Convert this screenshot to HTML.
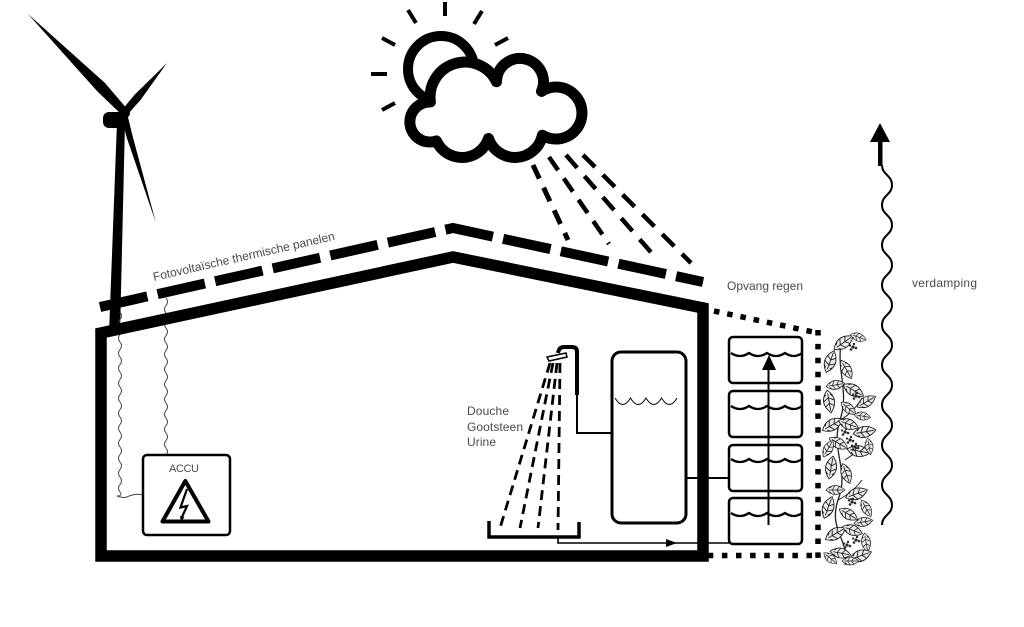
<!DOCTYPE html>
<html><head><meta charset="utf-8"><style>
html,body{margin:0;padding:0;background:#fff;}
svg{display:block;}
text{font-family:"Liberation Sans",sans-serif;fill:#4a4a4a;}
</style></head><body>
<svg width="1024" height="627" viewBox="0 0 1024 627" xmlns="http://www.w3.org/2000/svg">
<defs>
  <path id="lf" d="M-10,0 Q0,-10 11,0 Q0,10 -10,0 Z M-7,0 L9,0 M-3,0 L0,-5 M2,0 L5,-4 M-3,0 L0,5 M2,0 L5,4 M-6,-2 L-4,-4 M-6,2 L-4,4" fill="#ececec" stroke="#1a1a1a" stroke-width="0.8"/>
  <g id="fl" fill="#2a2a2a">
    <circle cx="0" cy="0" r="1.6"/><circle cx="3" cy="1" r="1.3"/><circle cx="-2" cy="2.5" r="1.3"/><circle cx="1" cy="-3" r="1.2"/><circle cx="-3" cy="-1.5" r="1.1"/>
  </g>
</defs>
<rect width="1024" height="627" fill="#fff"/>

<!-- wind turbine -->
<g fill="#000">
  <polygon points="117,122 125,122 120,334 109,334"/>
  <polygon points="128,110 105,83 28,14 97,91 123,116"/>
  <polygon points="122,110 134.6,94.7 167,63 140.6,99.9 128,114"/>
  <polygon points="121,116 126.7,137.5 156,223 132.5,135.7 127,113"/>
  <rect x="103" y="112" width="22" height="16" rx="6"/>
  <circle cx="125" cy="113" r="5"/>
</g>

<!-- wires to ACCU -->
<g fill="none" stroke="#444" stroke-width="1">
  <path d="M120,312 q3,3.75 0,7.5 q-3,3.75 0,7.5 q3,3.75 0,7.5 q-3,3.75 0,7.5 q3,3.75 0,7.5 q-3,3.75 0,7.5 q3,3.75 0,7.5 q-3,3.75 0,7.5 q3,3.75 0,7.5 q-3,3.75 0,7.5 q3,3.75 0,7.5 q-3,3.75 0,7.5 q3,3.75 0,7.5 q-3,3.75 0,7.5 q3,3.75 0,7.5 q-3,3.75 0,7.5 q3,3.75 0,7.5 q-3,3.75 0,7.5 q3,3.75 0,7.5 q-3,3.75 0,7.5 q3,3.75 0,7.5 q-3,3.75 0,7.5 q3,3.75 0,7.5 q-3,3.75 0,7.5 q3,3.75 -3,4 q7,3 12,0 q7,-3 14,-1"/>
  <path d="M166,298 q3,3.75 0,7.5 q-3,3.75 0,7.5 q3,3.75 0,7.5 q-3,3.75 0,7.5 q3,3.75 0,7.5 q-3,3.75 0,7.5 q3,3.75 0,7.5 q-3,3.75 0,7.5 q3,3.75 0,7.5 q-3,3.75 0,7.5 q3,3.75 0,7.5 q-3,3.75 0,7.5 q3,3.75 0,7.5 q-3,3.75 0,7.5 q3,3.75 0,7.5 q-3,3.75 0,7.5 q3,3.75 0,7.5 q-3,3.75 0,7.5 q3,3.75 0,7.5 q-3,3.75 0,7.5 q3,3.75 0,7.5 q-3,3.75 0,7"/>
</g>

<!-- PV panels dashed roof -->
<polyline points="100,307 453,228 703,282" fill="none" stroke="#000" stroke-width="10" stroke-dasharray="48.5 10.5"/>
<text x="0" y="0" font-size="12" textLength="186" transform="translate(154,281) rotate(-12.8)">Fotovoltaïsche thermische panelen</text>

<!-- house -->
<path d="M101,333 L453,257 L703,308 L703,556 L101,556 Z" fill="none" stroke="#000" stroke-width="11.5" stroke-linejoin="miter"/>

<!-- rain -->
<g stroke="#000" fill="none">
  <line x1="533" y1="165" x2="568" y2="240" stroke-width="5" stroke-dasharray="15 10"/>
  <line x1="549" y1="157" x2="609" y2="244" stroke-width="4.5" stroke-dasharray="16 10"/>
  <line x1="566" y1="155" x2="656" y2="258" stroke-width="4.5" stroke-dasharray="17 11"/>
  <line x1="583" y1="155" x2="691" y2="263" stroke-width="4.5" stroke-dasharray="17 11"/>
</g>

<!-- sun -->
<g stroke="#000" stroke-width="4" fill="none">
  <line x1="445" y1="2" x2="445" y2="16"/>
  <line x1="408" y1="10" x2="416" y2="23"/>
  <line x1="482" y1="11" x2="474" y2="24"/>
  <line x1="382" y1="38" x2="395" y2="45"/>
  <line x1="371" y1="74" x2="387" y2="74"/>
  <line x1="382" y1="110" x2="395" y2="103"/>
  <line x1="495" y1="45" x2="508" y2="38"/>
</g>
<circle cx="441" cy="69" r="33" fill="#fff" stroke="#000" stroke-width="10"/>

<!-- cloud -->
<path d="M430.4,102 A35,35 0 0 1 496.5,81.7 A23.5,23.5 0 1 1 541.5,91.4 A26,26 0 1 1 542.4,135.2 A28,28 0 0 1 488.5,138.5 A28,28 0 0 1 436.4,140.9 A20,20 0 1 1 430.4,102 Z" fill="#fff" stroke="#000" stroke-width="11" stroke-linejoin="round"/>

<!-- labels -->
<text x="727" y="290" font-size="12" textLength="76">Opvang regen</text>
<text x="912" y="287" font-size="12" textLength="65">verdamping</text>
<text x="467" y="415" font-size="12" textLength="42">Douche</text>
<text x="467" y="431" font-size="12" textLength="56">Gootsteen</text>
<text x="467" y="446" font-size="12" textLength="29">Urine</text>

<!-- ACCU -->
<rect x="143" y="455" width="87" height="80" rx="4" fill="#fff" stroke="#000" stroke-width="2.5"/>
<text x="169" y="472" font-size="11" textLength="30">ACCU</text>
<polygon points="185.3,481 162.5,521.5 208.5,521.5" fill="none" stroke="#000" stroke-width="4" stroke-linejoin="round"/>
<polyline points="187,489 180.5,507.5 187,506 182,517" fill="none" stroke="#000" stroke-width="2.2"/>
<polygon points="180,516 184.5,517 181,522" fill="#000"/>

<!-- shower -->
<g stroke="#000" fill="none">
  <path d="M577,395 L577,352 Q577,347 572,347 L564,347 Q559,347 558,353" stroke-width="4"/>
  <path d="M577,393 L577,433 L612,433" stroke-width="2"/>
  <line x1="550" y1="363" x2="500" y2="528" stroke-width="2.8" stroke-dasharray="10 6"/>
  <line x1="553" y1="363" x2="520" y2="528" stroke-width="2.8" stroke-dasharray="10 6"/>
  <line x1="557" y1="363" x2="538" y2="528" stroke-width="2.8" stroke-dasharray="10 6"/>
  <line x1="560" y1="363" x2="558" y2="530" stroke-width="2.8" stroke-dasharray="10 6"/>
  <path d="M489,521 L489,537 L579,537 L579,522" stroke-width="3.5"/>
  <path d="M558,537 L558,543 L729,543" stroke-width="1.6"/>
  <line x1="686" y1="478" x2="729" y2="478" stroke-width="2"/>
</g>
<path d="M547,357 L566,353 L567,357 L549,361 Z" fill="#fff" stroke="#000" stroke-width="1.5"/>
<polygon points="677,543 666,539 666,547" fill="#000"/>

<!-- storage tank -->
<rect x="612" y="352" width="74" height="171" rx="9" fill="#fff" stroke="#000" stroke-width="3"/>
<path d="M615,398 q7.75,13 15.5,0 q7.75,13 15.5,0 q7.75,13 15.5,0 q7.75,13 15.5,0" fill="none" stroke="#000" stroke-width="1"/>

<!-- rain tanks -->
<g fill="#fff" stroke="#000" stroke-width="2.5">
  <rect x="729" y="337" width="73" height="46" rx="4"/>
  <rect x="729" y="391" width="73" height="46" rx="4"/>
  <rect x="729" y="445" width="73" height="46" rx="4"/>
  <rect x="729" y="498" width="73" height="46" rx="4"/>
</g>
<g fill="none" stroke="#000" stroke-width="2.3">
  <path d="M731,353 q9,6 18,0 q9,6 18,0 q9,6 18,0 q9,6 17,0"/>
  <path d="M731,406 q9,6 18,0 q9,6 18,0 q9,6 18,0 q9,6 17,0"/>
  <path d="M731,459 q9,6 18,0 q9,6 18,0 q9,6 18,0 q9,6 17,0"/>
  <path d="M731,513 q9,6 18,0 q9,6 18,0 q9,6 18,0 q9,6 17,0"/>
  <line x1="768.5" y1="525" x2="768.5" y2="368" stroke-width="2"/>
</g>
<polygon points="769,355 762,370 776,370" fill="#000"/>

<!-- dotted collection line -->
<g stroke="#000" stroke-width="5.5" fill="none">
  <line x1="714" y1="311" x2="818" y2="333" stroke-dasharray="5.5 8"/>
  <line x1="818" y1="330" x2="818" y2="558" stroke-dasharray="5.5 8.4"/>
  <line x1="812" y1="555.5" x2="708" y2="555.5" stroke-dasharray="5.5 8.6"/>
</g>

<!-- plants -->
<path d="M842,338 C835,370 850,390 840,420 C830,450 850,470 838,500 C828,530 850,540 845,565" fill="none" stroke="#222" stroke-width="1.3"/>
<path d="M840,420 C850,415 858,405 862,398 M838,500 C848,495 856,488 862,480 M845,460 C852,455 860,450 866,446" fill="none" stroke="#222" stroke-width="1"/>
<use href="#lf" transform="translate(843,343) rotate(-35) scale(1.1)"/>
<use href="#lf" transform="translate(858,337) rotate(20) scale(0.8)"/>
<use href="#lf" transform="translate(830,362) rotate(-70) scale(1.1)"/>
<use href="#lf" transform="translate(846,369) rotate(60) scale(1)"/>
<use href="#lf" transform="translate(835,385) rotate(-10) scale(0.9)"/>
<use href="#lf" transform="translate(853,390) rotate(30) scale(1.1)"/>
<use href="#lf" transform="translate(866,402) rotate(-30) scale(1)"/>
<use href="#lf" transform="translate(829,401) rotate(80) scale(1.1)"/>
<use href="#lf" transform="translate(848,408) rotate(40) scale(0.9)"/>
<use href="#lf" transform="translate(862,416) rotate(10) scale(0.8)"/>
<use href="#lf" transform="translate(832,425) rotate(-30) scale(1.1)"/>
<use href="#lf" transform="translate(848,424) rotate(20) scale(1)"/>
<use href="#lf" transform="translate(864,432) rotate(-10) scale(1.1)"/>
<use href="#lf" transform="translate(838,443) rotate(30) scale(1)"/>
<use href="#lf" transform="translate(858,451) rotate(10) scale(1.1)"/>
<use href="#lf" transform="translate(869,446) rotate(80) scale(0.8)"/>
<use href="#lf" transform="translate(828,449) rotate(-60) scale(0.9)"/>
<use href="#lf" transform="translate(831,468) rotate(-80) scale(1.1)"/>
<use href="#lf" transform="translate(846,473) rotate(70) scale(1)"/>
<use href="#lf" transform="translate(835,490) rotate(0) scale(0.9)"/>
<use href="#lf" transform="translate(856,494) rotate(-20) scale(1.1)"/>
<use href="#lf" transform="translate(866,508) rotate(60) scale(0.9)"/>
<use href="#lf" transform="translate(828,508) rotate(-70) scale(1.1)"/>
<use href="#lf" transform="translate(848,514) rotate(30) scale(1)"/>
<use href="#lf" transform="translate(863,522) rotate(-10) scale(0.9)"/>
<use href="#lf" transform="translate(835,534) rotate(-30) scale(1.1)"/>
<use href="#lf" transform="translate(852,530) rotate(20) scale(1)"/>
<use href="#lf" transform="translate(866,542) rotate(80) scale(0.9)"/>
<use href="#lf" transform="translate(840,553) rotate(10) scale(1)"/>
<use href="#lf" transform="translate(860,556) rotate(-20) scale(1.1)"/>
<use href="#lf" transform="translate(830,558) rotate(40) scale(0.8)"/>
<use href="#lf" transform="translate(850,561) rotate(0) scale(0.8)"/>
<use href="#fl" transform="translate(853,347)"/>
<use href="#fl" transform="translate(856,396)"/>
<use href="#fl" transform="translate(845,432)"/>
<use href="#fl" transform="translate(850,440)"/>
<use href="#fl" transform="translate(855,447)"/>
<use href="#fl" transform="translate(852,502)"/>
<use href="#fl" transform="translate(847,545)"/>
<use href="#fl" transform="translate(856,540)"/>

<!-- evaporation -->
<path d="M882,165 C882,175 892,175 892,185 C892,195 882,195 882,205 C882,215 892,215 892,225 C892,235 882,235 882,245 C882,255 892,255 892,265 C892,275 882,275 882,285 C882,295 892,295 892,305 C892,315 882,315 882,325 C882,335 892,335 892,345 C892,355 882,355 882,365 C882,375 892,375 892,385 C892,395 882,395 882,405 C882,415 892,415 892,425 C892,435 882,435 882,445 C882,455 892,455 892,465 C892,475 882,475 882,485 C882,495 892,495 892,505 C892,515 882,515 882,525" fill="none" stroke="#000" stroke-width="2"/>
<rect x="878" y="140" width="4.5" height="26" fill="#000"/>
<polygon points="880,123 870,142 890,142" fill="#000"/>
</svg>
</body></html>
